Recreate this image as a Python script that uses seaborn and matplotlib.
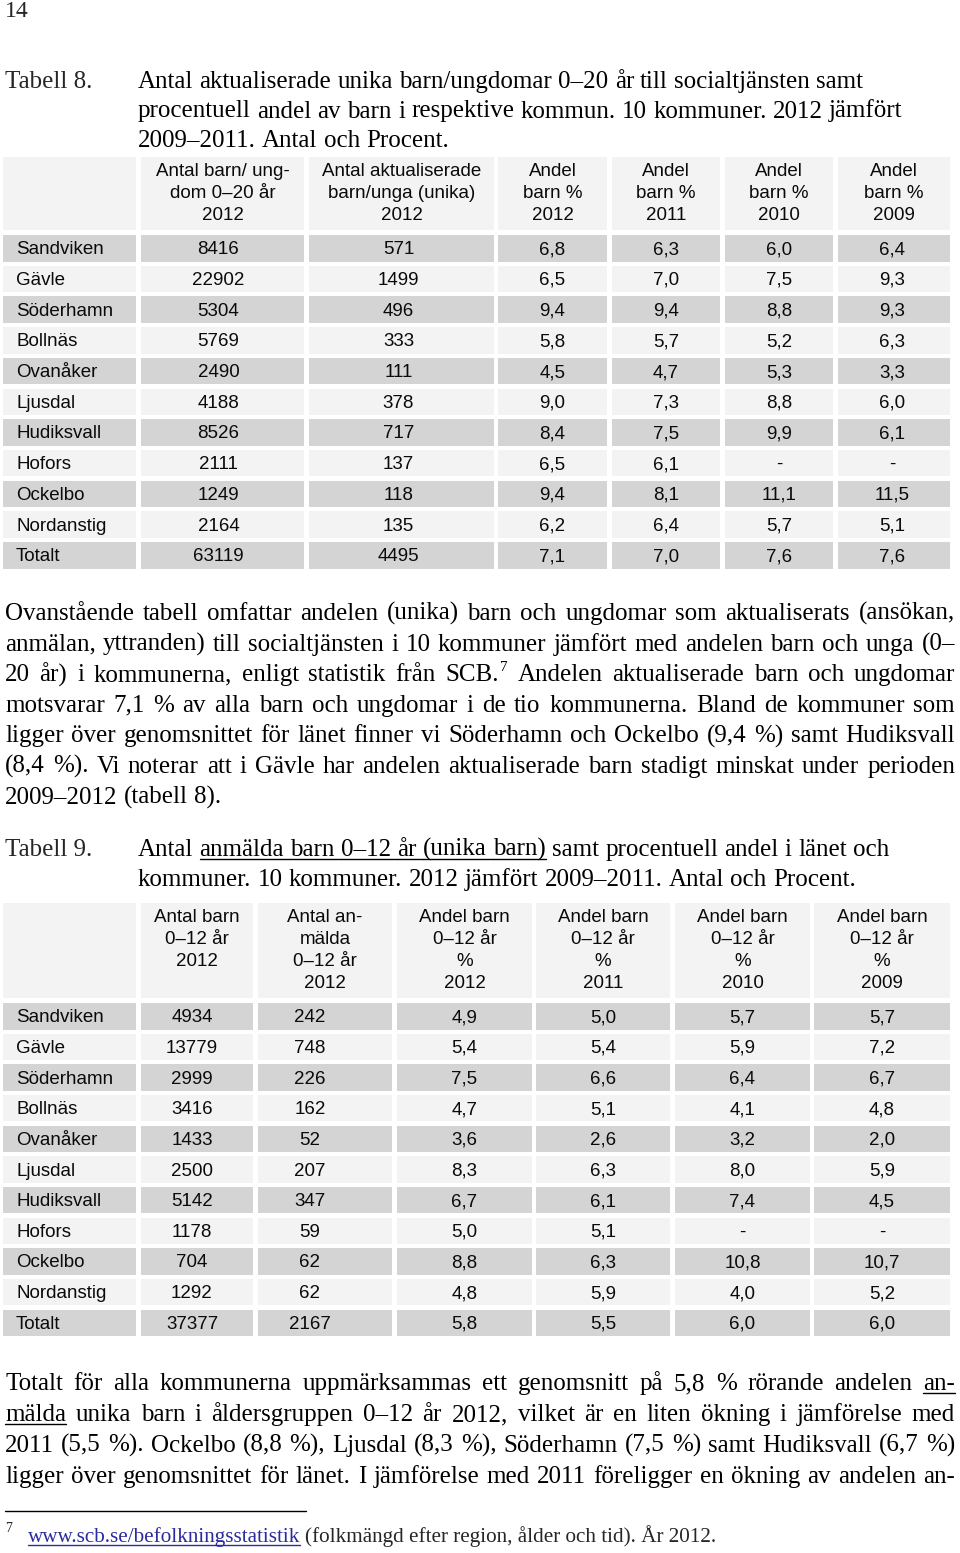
import matplotlib.pyplot as plt
import seaborn as sns
from matplotlib.patches import Rectangle

sns.set_theme(style='white')
SERIF = ['Liberation Serif', 'DejaVu Serif']
SANS = ['Liberation Sans', 'DejaVu Sans']
plt.rcParams['font.family'] = SERIF

# ---- data ----
kommuner = ['Sandviken', 'Gävle', 'Söderhamn', 'Bollnäs', 'Ovanåker', 'Ljusdal',
            'Hudiksvall', 'Hofors', 'Ockelbo', 'Nordanstig', 'Totalt']

t8_headers = ['Antal barn/ ung-\ndom 0–20 år\n2012', 'Antal aktualiserade\nbarn/unga (unika)\n2012',
              'Andel\nbarn %\n2012', 'Andel\nbarn %\n2011', 'Andel\nbarn %\n2010', 'Andel\nbarn %\n2009']
t8_antal_barn = [8416, 22902, 5304, 5769, 2490, 4188, 8526, 2111, 1249, 2164, 63119]
t8_aktualiserade = [571, 1499, 496, 333, 111, 378, 717, 137, 118, 135, 4495]
t8_andel_2012 = [6.8, 6.5, 9.4, 5.8, 4.5, 9.0, 8.4, 6.5, 9.4, 6.2, 7.1]
t8_andel_2011 = [6.3, 7.0, 9.4, 5.7, 4.7, 7.3, 7.5, 6.1, 8.1, 6.4, 7.0]
t8_andel_2010 = [6.0, 7.5, 8.8, 5.2, 5.3, 8.8, 9.9, None, 11.1, 5.7, 7.6]
t8_andel_2009 = [6.4, 9.3, 9.3, 6.3, 3.3, 6.0, 6.1, None, 11.5, 5.1, 7.6]

t9_headers = ['Antal barn\n0–12 år\n2012', 'Antal an-\nmälda\n0–12 år\n2012',
              'Andel barn\n0–12 år\n%\n2012', 'Andel barn\n0–12 år\n%\n2011',
              'Andel barn\n0–12 år\n%\n2010', 'Andel barn\n0–12 år\n%\n2009']
t9_antal_barn = [4934, 13779, 2999, 3416, 1433, 2500, 5142, 1178, 704, 1292, 37377]
t9_anmalda = [242, 748, 226, 162, 52, 207, 347, 59, 62, 62, 2167]
t9_andel_2012 = [4.9, 5.4, 7.5, 4.7, 3.6, 8.3, 6.7, 5.0, 8.8, 4.8, 5.8]
t9_andel_2011 = [5.0, 5.4, 6.6, 5.1, 2.6, 6.3, 6.1, 5.1, 6.3, 5.9, 5.5]
t9_andel_2010 = [5.7, 5.9, 6.4, 4.1, 3.2, 8.0, 7.4, None, 10.8, 4.0, 6.0]
t9_andel_2009 = [5.7, 7.2, 6.7, 4.8, 2.0, 5.9, 4.5, None, 10.7, 5.2, 6.0]

t8_title = ['Antal aktualiserade unika barn/ungdomar 0–20 år till socialtjänsten samt',
            'procentuell andel av barn i respektive kommun. 10 kommuner. 2012 jämfört',
            '2009–2011. Antal och Procent.']
t9_title = ['Antal _anmälda _barn _0–12 _år _(unika _barn) samt procentuell andel i länet och',
            'kommuner. 10 kommuner. 2012 jämfört 2009–2011. Antal och Procent.']

para1 = ['Ovanstående tabell omfattar andelen (unika) barn och ungdomar som aktualiserats (ansökan,',
         'anmälan, yttranden) till socialtjänsten i 10 kommuner jämfört med andelen barn och unga (0–',
         '20 år) i kommunerna, enligt statistik från SCB.^7 Andelen aktualiserade barn och ungdomar',
         'motsvarar 7,1 % av alla barn och ungdomar i de tio kommunerna. Bland de kommuner som',
         'ligger över genomsnittet för länet finner vi Söderhamn och Ockelbo (9,4 %) samt Hudiksvall',
         '(8,4 %). Vi noterar att i Gävle har andelen aktualiserade barn stadigt minskat under perioden',
         '2009–2012 (tabell 8).']
para2 = ['Totalt för alla kommunerna uppmärksammas ett genomsnitt på 5,8 % rörande andelen _an-',
         '_mälda unika barn i åldersgruppen 0–12 år 2012, vilket är en liten ökning i jämförelse med',
         '2011 (5,5 %). Ockelbo (8,8 %), Ljusdal (8,3 %), Söderhamn (7,5 %) samt Hudiksvall (6,7 %)',
         'ligger över genomsnittet för länet. I jämförelse med 2011 föreligger en ökning av andelen an-']
footnote_link = 'www.scb.se/befolkningsstatistik'
footnote_rest = '(folkmängd efter region, ålder och tid). År 2012.'

BODY = 18
NOTE = 15.2
CELL = 13.5
GRAY = '#d4d4d4'
LIGHT = '#f3f3f3'
LINK = '#2b2ba0'
INK = '#0a0a0a'


def fmt(v):
    return '-' if v is None else f'{v:.1f}'.replace('.', ',')


fig = plt.figure(figsize=(9.6, 15.53), dpi=100, facecolor='white')
ax = fig.add_axes([0, 0, 1, 1])
ax.set_xlim(0, 960)
ax.set_ylim(1553, 0)
ax.axis('off')
renderer = fig.canvas.get_renderer()


def text_width(s, size, family=SERIF):
    t = ax.text(0, 0, s, fontsize=size, family=family)
    w = t.get_window_extent(renderer).width
    t.remove()
    return w


def put_words(line, x0, y, size=BODY, x1=None, color='black'):
    '''place words one by one, spread to x1 when given (justified text)'''
    toks = []
    for w in line.split(' '):
        ul = w.startswith('_')
        if ul:
            w = w[1:]
        main, _, sup = w.partition('^')
        wm = text_width(main, size)
        ws = text_width(sup, size * 0.6) + 2 if sup else 0
        toks.append((main, sup, ul, wm, ws))
    space = text_width('a a', size) - text_width('aa', size)
    total = sum(t[3] + t[4] for t in toks)
    gap = (x1 - x0 - total) / (len(toks) - 1) if x1 and len(toks) > 1 else space
    x = x0
    for i, (main, sup, ul, wm, ws) in enumerate(toks):
        ax.text(x, y, main, fontsize=size, color=color, va='baseline', ha='left')
        if sup:
            ax.text(x + wm + 1, y - 10, sup, fontsize=size * 0.6, color=color, va='baseline', ha='left')
        if ul:
            end = x + wm
            if i + 1 < len(toks) and toks[i + 1][2]:
                end += gap
            ax.plot([x, end], [y + 3, y + 3], color=color, lw=1)
        x += wm + ws + gap


def draw_table(cols, head_top, head_bot, row_top, pitch, row_h, headers, columns, offsets):
    # header row
    for (c0, c1) in cols:
        ax.add_patch(Rectangle((c0, head_top), c1 - c0, head_bot - head_top, color=LIGHT, lw=0))
    for (c0, c1), h in zip(cols[1:], headers):
        ax.text((c0 + c1) / 2, head_top + 6, h, family=SANS, fontsize=CELL, ha='center', va='top',
                multialignment='center', linespacing=1.38, color=INK)
    # body rows
    for i, name in enumerate(kommuner):
        top = row_top + i * pitch
        fill = GRAY if i % 2 == 0 else LIGHT
        for (c0, c1) in cols:
            ax.add_patch(Rectangle((c0, top), c1 - c0, row_h, color=fill, lw=0))
        yc = top + row_h / 2 + 1.5
        ax.text(16, yc, name, family=SANS, fontsize=CELL, ha='left', va='center', color=INK)
        for (c0, c1), col, off in zip(cols[1:], columns, offsets):
            ax.text((c0 + c1) / 2 + off, yc, col[i], family=SANS, fontsize=CELL,
                    ha='center', va='center', color=INK)


# page number and table 8 title
ax.text(5, 17, '14', fontsize=17, va='baseline')
ax.text(5, 88, 'Tabell 8.', fontsize=BODY, va='baseline')
for i, line in enumerate(t8_title):
    put_words(line, 138, 88 + i * 29.5)

t8_cols = [(3, 136), (141, 304), (309, 494), (498, 607), (612, 720), (725, 833), (838, 950)]
t8_columns = [[str(v) for v in t8_antal_barn], [str(v) for v in t8_aktualiserade],
              [fmt(v) for v in t8_andel_2012], [fmt(v) for v in t8_andel_2011],
              [fmt(v) for v in t8_andel_2010], [fmt(v) for v in t8_andel_2009]]
draw_table(t8_cols, 157, 230, 235, 30.7, 26.5, t8_headers, t8_columns, [-4, -3, 0, 0, 0, -2])

for i, line in enumerate(para1):
    last = i == len(para1) - 1
    put_words(line, 5, 620 + i * 30.6, x1=None if last else 955)

# table 9
ax.text(5, 856, 'Tabell 9.', fontsize=BODY, va='baseline')
for i, line in enumerate(t9_title):
    put_words(line, 138, 856 + i * 30)

t9_cols = [(3, 136), (141, 253), (258, 392), (397, 532), (536, 670), (675, 810), (814, 950)]
t9_columns = [[str(v) for v in t9_antal_barn], [str(v) for v in t9_anmalda],
              [fmt(v) for v in t9_andel_2012], [fmt(v) for v in t9_andel_2011],
              [fmt(v) for v in t9_andel_2010], [fmt(v) for v in t9_andel_2009]]
draw_table(t9_cols, 903, 998, 1003, 30.65, 26.5, t9_headers, t9_columns, [-5, -15, 0, 0, 0, 0])

for i, line in enumerate(para2):
    put_words(line, 5, 1390 + i * 31, x1=955)

# footnote
ax.plot([5, 306], [1511, 1511], color='black', lw=1)
ax.text(5, 1532, '7', fontsize=10, va='baseline')
wl = text_width(footnote_link, NOTE)
ax.text(28, 1542, footnote_link, fontsize=NOTE, color=LINK, va='baseline')
ax.plot([28, 28 + wl], [1545, 1545], color=LINK, lw=1)
ax.text(28 + wl + 5, 1542, footnote_rest, fontsize=NOTE, va='baseline')

plt.savefig('out.png', dpi=100, facecolor='white')
